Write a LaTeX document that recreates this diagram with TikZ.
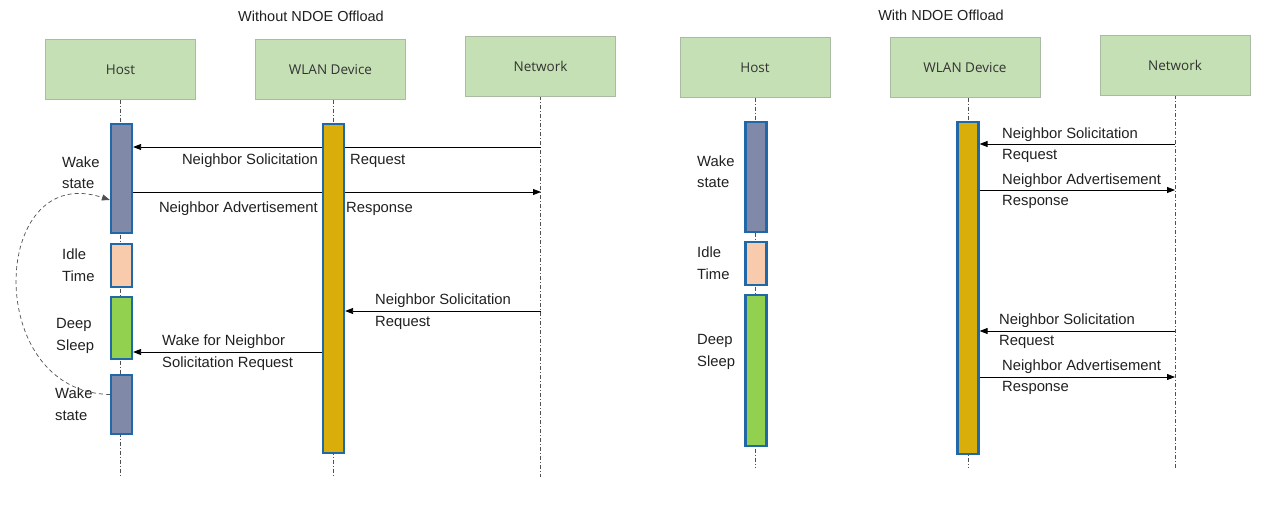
\documentclass[tikz,border=0pt]{standalone}
\usepackage{fontspec}
\setmainfont{Liberation Sans}
\newfontfamily\hdrfont{Open Sans}
\usepackage{tikz}
\usetikzlibrary{arrows.meta, positioning, calc, backgrounds}

\definecolor{hdrfill}{HTML}{C5E0B4}
\definecolor{hdrline}{HTML}{A9BBA3}
\definecolor{hdrtext}{HTML}{333333}
\definecolor{wakefill}{HTML}{8089A8}
\definecolor{idlefill}{HTML}{F8CBAD}
\definecolor{deepfill}{HTML}{92D050}
\definecolor{wlanfill}{HTML}{D9AE0B}
\definecolor{barline}{HTML}{2068A8}
\definecolor{lifegray}{HTML}{505050}
\definecolor{lbltext}{HTML}{202020}

\begin{document}
\begin{tikzpicture}[
    x=1pt, y=-1pt,
    hdr/.style={rectangle, draw=hdrline, fill=hdrfill, minimum width=150pt, minimum height=60pt, inner sep=0pt, text=hdrtext, font=\hdrfont\fontsize{13.5}{15}\selectfont},
    bar/.style={rectangle, draw=barline, line width=2.2pt, minimum width=21pt, inner sep=0pt},
    lifeline/.style={lifegray, line width=0.7pt, dash pattern=on 4pt off 2pt on 1pt off 2pt},
    msg/.style={-{Triangle[length=8pt,width=6pt]}, line width=0.8pt, black},
    lbl/.style={inner sep=0pt, align=left, text=lbltext, font=\fontsize{14.8}{21.5}\selectfont},
    title/.style={inner sep=0pt, text=lbltext, font=\fontsize{14.5}{17}\selectfont},
    wakeloop/.style={-{Triangle[length=8pt,width=6pt]}, line width=0.7pt, lifegray, dash pattern=on 4pt off 3pt}
]
    \useasboundingbox (0,0) rectangle (1271,506);

    % ---- without offload ----
    \node[title] (ltitle) at (311,16) {Without NDOE Offload};
    \node[hdr] (lhost) at (120.5,69.5) {Host};
    \node[hdr] (lwlan) at (330.5,69.5) {WLAN Device};
    \node[hdr] (lnet) at (540.5,66) {Network};

    \node[bar, fill=wakefill, minimum height=109pt] (lwake1) at (121.5,178.5) {};
    \node[bar, fill=idlefill, minimum height=43pt] (lidle) at (121.5,265.5) {};
    \node[bar, fill=deepfill, minimum height=62pt] (ldeep) at (121.5,328) {};
    \node[bar, fill=wakefill, minimum height=59pt] (lwake2) at (121.5,404.5) {};
    \node[bar, fill=wlanfill, minimum height=329pt] (lwbar) at (333.5,288.5) {};

    \coordinate (ln1) at (541,147);
    \coordinate (ln2) at (541,192);
    \coordinate (ln3) at (541,311);
    \coordinate (lw4) at (333.5,352);

    \begin{scope}[on background layer]
        \draw[lifeline] (lhost.south) -- (lhost.south |- 0,477);
        \draw[lifeline] (lwlan.south -| lwbar) -- (lwbar |- 0,477);
        \draw[lifeline] (lnet.south) -- (lnet.south |- 0,477);
        \draw[msg] (ln1) -- (ln1 -| lwake1.east);
        \draw[msg] (ln2 -| lwake1.east) -- (ln2);
    \end{scope}
    \draw[msg] (ln3) -- (ln3 -| lwbar.east);
    \draw[msg] (lw4 -| lwbar.west) -- (lw4 -| ldeep.east);

    \node[lbl, anchor=east] (lm1a) at (318,161) {Neighbor Solicitation};
    \node[lbl, anchor=west] (lm1b) at (350,161) {Request};
    \node[lbl, anchor=east] (lm2a) at (318,209) {Neighbor Advertisement};
    \node[lbl, anchor=west] (lm2b) at (346,209) {Response};
    \node[lbl, anchor=west] (lm3) at (375,311.5) {Neighbor Solicitation\\Request};
    \node[lbl, anchor=west] (lm4) at (162,352.5) {Wake for Neighbor\\Solicitation Request};

    \node[lbl, anchor=west] (lswake1) at (62,172.5) {Wake\\state};
    \node[lbl, anchor=west] (lsidle) at (62,265) {Idle\\Time};
    \node[lbl, anchor=west] (lsdeep) at (56,336) {Deep\\Sleep};
    \node[lbl, anchor=west] (lswake2) at (55,404) {Wake\\state};

    \draw[wakeloop] ($(lwake2.west)+(0,-10)$) .. controls (-18,392) and (-10,160) .. ($(lwake1.west)+(0,21.5)$);

    % ---- with offload ----
    \node[title] (rtitle) at (941,15) {With NDOE Offload};
    \node[hdr] (rhost) at (755,67.5) {Host};
    \node[hdr] (rwlan) at (965,67.5) {WLAN Device};
    \node[hdr] (rnet) at (1175,65) {Network};

    \node[bar, fill=wakefill, minimum height=110pt] (rwake) at (756,177) {};
    \node[bar, fill=idlefill, minimum height=43pt] (ridle) at (756,263.5) {};
    \node[bar, fill=deepfill, minimum height=151pt] (rdeep) at (756,370.5) {};
    \node[bar, fill=wlanfill, minimum height=332pt] (rwbar) at (968,288) {};

    \coordinate (rn1) at (1175,144);
    \coordinate (rn2) at (1175,190);
    \coordinate (rn3) at (1175,331);
    \coordinate (rn4) at (1175,377);

    \begin{scope}[on background layer]
        \draw[lifeline] (rhost.south) -- (rhost.south |- 0,468);
        \draw[lifeline] (rwlan.south -| rwbar) -- (rwbar |- 0,468);
        \draw[lifeline] (rnet.south) -- (rnet.south |- 0,468);
    \end{scope}
    \draw[msg] (rn1) -- (rn1 -| rwbar.east);
    \draw[msg] (rn2 -| rwbar.east) -- (rn2);
    \draw[msg] (rn3) -- (rn3 -| rwbar.east);
    \draw[msg] (rn4 -| rwbar.east) -- (rn4);

    \node[lbl, anchor=west] (rm1) at (1002,145) {Neighbor Solicitation\\Request};
    \node[lbl, anchor=west] (rm2) at (1002,191) {Neighbor Advertisement\\Response};
    \node[lbl, anchor=west] (rm3) at (999,331) {Neighbor Solicitation\\Request};
    \node[lbl, anchor=west] (rm4) at (1002,377) {Neighbor Advertisement\\Response};

    \node[lbl, anchor=west] (rswake) at (697,171.5) {Wake\\state};
    \node[lbl, anchor=west] (rsidle) at (697,263) {Idle\\Time};
    \node[lbl, anchor=west] (rsdeep) at (697,352) {Deep\\Sleep};
\end{tikzpicture}
\end{document}
